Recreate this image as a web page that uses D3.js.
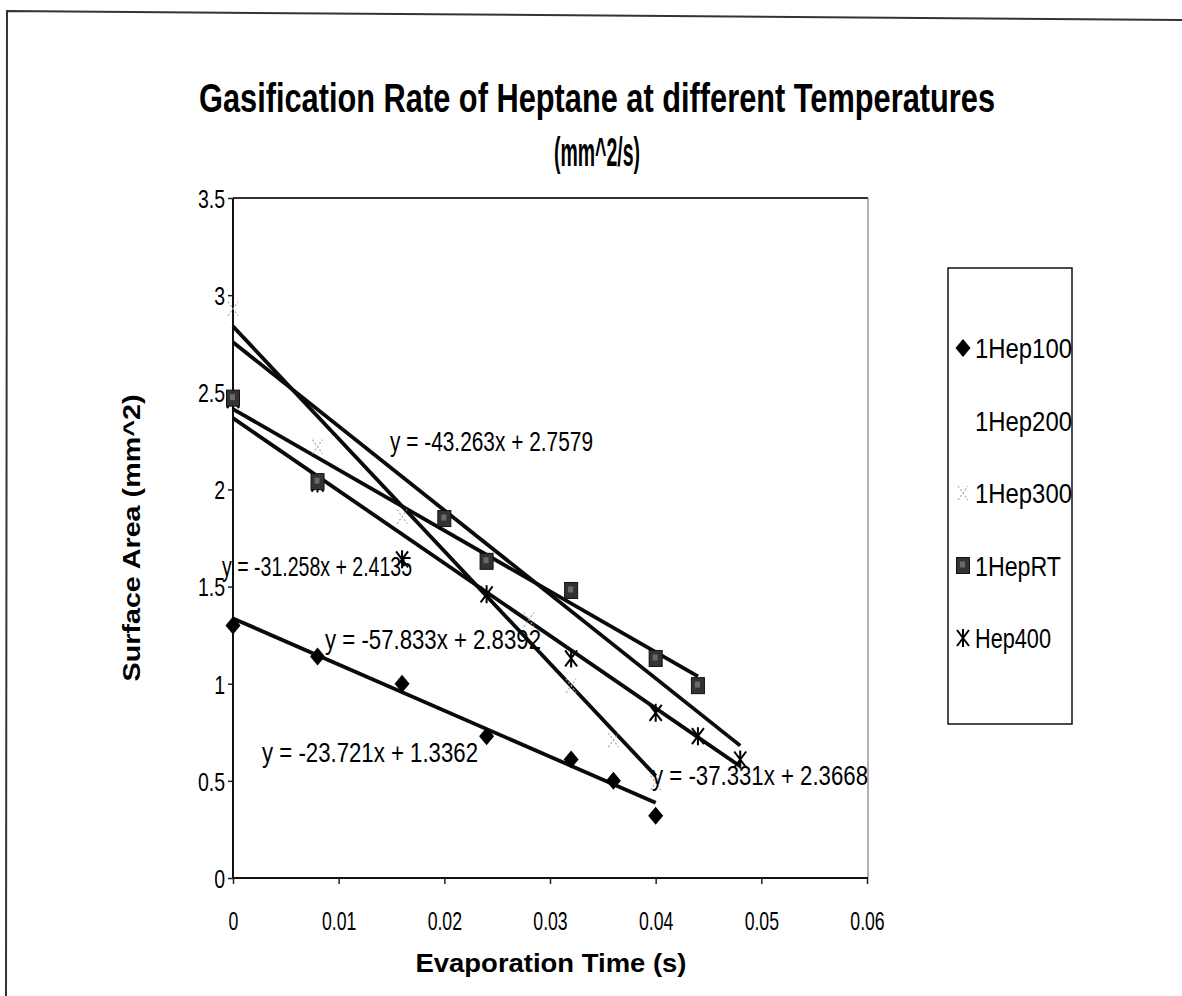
<!DOCTYPE html>
<html>
<head>
<meta charset="utf-8">
<script src="https://cdn.jsdelivr.net/npm/d3@7"></script>
<style>
  html, body { margin: 0; padding: 0; background: #fff; }
  text { font-family: "Liberation Sans", Arial, sans-serif; fill: #000; }
</style>
</head>
<body>
<svg id="chart" width="1182" height="996"></svg>
<script>
// ---------- data ----------
const seriesNames = ["1Hep100", "1Hep200", "1Hep300", "1HepRT", "Hep400"];

const time100 = [0, 0.008, 0.016, 0.024, 0.032, 0.036, 0.04];
const area100 = [1.30, 1.14, 1.00, 0.73, 0.61, 0.50, 0.32];

const time200 = [0, 0.008, 0.016, 0.024, 0.032, 0.04, 0.048];
const area200 = [2.80, 2.38, 2.05, 1.72, 1.35, 1.02, 0.70];

const time300 = [0, 0.008, 0.016, 0.028, 0.032, 0.036, 0.04];
const area300 = [2.93, 2.22, 1.86, 1.33, 0.99, 0.71, 0.49];

const timeRT = [0, 0.008, 0.02, 0.024, 0.032, 0.04, 0.044];
const areaRT = [2.47, 2.04, 1.85, 1.63, 1.48, 1.13, 0.99];

const time400 = [0, 0.008, 0.016, 0.024, 0.032, 0.04, 0.044, 0.048];
const area400 = [2.46, 2.03, 1.64, 1.46, 1.13, 0.85, 0.73, 0.61];

// trendline coefficients (as printed on the chart)
const slopes = [-23.721, -43.263, -57.833, -31.258, -37.331];
const intercepts = [1.3362, 2.7579, 2.8392, 2.4135, 2.3668];
const equationLabels = [
  "y = -23.721x + 1.3362",
  "y = -43.263x + 2.7579",
  "y = -57.833x + 2.8392",
  "y = -31.258x + 2.4135",
  "y = -37.331x + 2.3668"
];

const xTicks = [0, 0.01, 0.02, 0.03, 0.04, 0.05, 0.06];
const yTicks = [0, 0.5, 1, 1.5, 2, 2.5, 3, 3.5];
const xTickLabels = ["0", "0.01", "0.02", "0.03", "0.04", "0.05", "0.06"];
const yTickLabels = ["0", "0.5", "1", "1.5", "2", "2.5", "3", "3.5"];

const titleLine1 = "Gasification Rate of Heptane at different Temperatures";
const titleLine2 = "(mm^2/s)";
const xTitle = "Evaporation Time (s)";
const yTitle = "Surface Area (mm^2)";

// ---------- helpers ----------
function condense(sel, factor) {
  sel.each(function () {
    const w = this.getComputedTextLength();
    d3.select(this).attr("textLength", w * factor).attr("lengthAdjust", "spacingAndGlyphs");
  });
}

// ---------- layout ----------
const svg = d3.select("#chart");
const plot = { left: 233, right: 867, top: 198, bottom: 878 };

const x = d3.scaleLinear().domain([0, 0.06]).range([plot.left, plot.right]);
const y = d3.scaleLinear().domain([0, 3.5]).range([plot.bottom, plot.top]);

// outer frame (scanned page border: left and top edges)
svg.append("path")
  .attr("d", "M6,996 L7,11 L1182,20")
  .attr("fill", "none").attr("stroke", "#333").attr("stroke-width", 2);

// plot area border (top & right)
svg.append("path")
  .attr("d", `M${plot.left},${plot.top} H${plot.right + 1}`)
  .attr("fill", "none").attr("stroke", "#333").attr("stroke-width", 1.8);
svg.append("path")
  .attr("d", `M${plot.right + 1},${plot.top} V${plot.bottom}`)
  .attr("fill", "none").attr("stroke", "#888").attr("stroke-width", 1.3);

// titles
svg.append("text").attr("x", 597).attr("y", 112)
  .attr("text-anchor", "middle").attr("font-size", 41).attr("font-weight", "bold")
  .attr("textLength", 796).attr("lengthAdjust", "spacingAndGlyphs")
  .text(titleLine1);
svg.append("text").attr("x", 597).attr("y", 166)
  .attr("text-anchor", "middle").attr("font-size", 40).attr("font-weight", "bold")
  .attr("textLength", 86).attr("lengthAdjust", "spacingAndGlyphs")
  .text(titleLine2);

// axes
const xAxis = d3.axisBottom(x).tickValues(xTicks).tickSize(6)
  .tickFormat((d, i) => xTickLabels[i]);
const gx = svg.append("g").attr("transform", `translate(0,${plot.bottom})`).call(xAxis);
gx.attr("font-family", null).attr("font-size", null);
gx.select(".domain").attr("stroke", "#111").attr("stroke-width", 2).attr("d", `M${plot.left},0H${plot.right + 1}`);
gx.selectAll(".tick line").attr("stroke", "#222").attr("stroke-width", 1.5);
gx.selectAll(".tick text").attr("y", 52).attr("dy", 0)
  .style("font-size", "26px").attr("fill", "#000")
  .call(condense, 0.68);

const yAxis = d3.axisLeft(y).tickValues(yTicks).tickSize(5)
  .tickFormat((d, i) => yTickLabels[i]);
const gy = svg.append("g").attr("transform", `translate(${plot.left},0)`).call(yAxis);
gy.attr("font-family", null).attr("font-size", null);
gy.select(".domain").attr("stroke", "#111").attr("stroke-width", 2).attr("d", `M0,${plot.top}V${plot.bottom}`);
gy.selectAll(".tick line").attr("stroke", "#222").attr("stroke-width", 1.5);
gy.selectAll(".tick text").attr("x", -8).attr("dy", "0.36em")
  .style("font-size", "26px").attr("fill", "#000")
  .call(condense, 0.75);

// axis titles
svg.append("text").attr("x", 551).attr("y", 972)
  .attr("text-anchor", "middle").attr("font-size", 26).attr("font-weight", "bold")
  .attr("textLength", 271).attr("lengthAdjust", "spacingAndGlyphs")
  .text(xTitle);
svg.append("text").attr("transform", "translate(140,538) rotate(-90)")
  .attr("text-anchor", "middle").attr("font-size", 24).attr("font-weight", "bold")
  .attr("textLength", 287).attr("lengthAdjust", "spacingAndGlyphs")
  .text(yTitle);

// ---------- trendlines ----------
const seriesTimes = [time100, time200, time300, timeRT, time400];
const seriesAreas = [area100, area200, area300, areaRT, area400];

const line = d3.line().x(d => x(d[0])).y(d => y(d[1]));
seriesTimes.forEach((ts, i) => {
  const [x0, x1] = d3.extent(ts);
  const pts = [[x0, intercepts[i] + slopes[i] * x0], [x1, intercepts[i] + slopes[i] * x1]];
  svg.append("path").datum(pts).attr("d", line)
    .attr("fill", "none").attr("stroke", "#0a0a0a").attr("stroke-width", 3.8)
    .attr("stroke-linecap", "butt");
});

// ---------- markers ----------
function drawMarker(g, kind, cx, cy) {
  if (kind === 0) { // diamond
    g.append("path").attr("d", "M0,-9L7.5,0L0,9L-7.5,0Z")
      .attr("transform", `translate(${cx},${cy})`).attr("fill", "#000");
  } else if (kind === 1) { // invisible (white) marker
    g.append("path").attr("d", d3.symbol(d3.symbolSquare, 60)())
      .attr("transform", `translate(${cx},${cy})`).attr("fill", "#fff").attr("opacity", 0);
  } else if (kind === 2) { // faint grey x
    g.append("path").attr("d", "M-5,-7L5,7M-5,7L5,-7")
      .attr("transform", `translate(${cx},${cy})`)
      .attr("stroke", "#aaa").attr("stroke-width", 1.2).attr("stroke-dasharray", "2,2").attr("fill", "none");
  } else if (kind === 3) { // dark grey square
    g.append("rect").attr("x", cx - 6.5).attr("y", cy - 8).attr("width", 13).attr("height", 16)
      .attr("fill", "#333").attr("stroke", "#111").attr("stroke-width", 1);
    g.append("rect").attr("x", cx - 3).attr("y", cy - 4).attr("width", 5).attr("height", 6)
      .attr("fill", "#6a6a6a");
  } else { // asterisk
    g.append("path").attr("d", "M-6,-8L6,8M-6,8L6,-8M0,-9V9")
      .attr("transform", `translate(${cx},${cy})`)
      .attr("stroke", "#000").attr("stroke-width", 2).attr("fill", "none");
  }
}

// draw Hep400 first so RT squares cover the overlapping asterisks
[4, 0, 1, 2, 3].forEach(i => {
  const g = svg.append("g").attr("class", "series-" + i);
  seriesTimes[i].forEach((t, j) => drawMarker(g, i, x(t), y(seriesAreas[i][j])));
});

// ---------- equation labels ----------
const eqPos = [
  { x: 262, y: 762, w: 216 },
  { x: 390, y: 451, w: 203 },
  { x: 325, y: 649, w: 216 },
  { x: 222, y: 576, w: 190 },
  { x: 652, y: 785, w: 216 }
];
equationLabels.forEach((s, i) => {
  svg.append("text").attr("x", eqPos[i].x).attr("y", eqPos[i].y)
    .attr("font-size", 27)
    .attr("textLength", eqPos[i].w).attr("lengthAdjust", "spacingAndGlyphs")
    .text(s);
});

// ---------- legend ----------
const legend = svg.append("g");
legend.append("rect").attr("x", 948).attr("y", 268).attr("width", 124).attr("height", 456)
  .attr("fill", "#fff").attr("stroke", "#111").attr("stroke-width", 1.5);
const legendY = d3.scalePoint().domain(seriesNames).range([348, 638]);
seriesNames.forEach((name, i) => {
  const ly = legendY(name);
  drawMarker(legend, i, 963, ly);
  legend.append("text").attr("x", 975).attr("y", ly + 10)
    .attr("font-size", 27)
    .attr("textLength", name === "Hep400" ? 76 : (name === "1HepRT" ? 86 : 97))
    .attr("lengthAdjust", "spacingAndGlyphs")
    .text(name);
});
</script>
</body>
</html>
